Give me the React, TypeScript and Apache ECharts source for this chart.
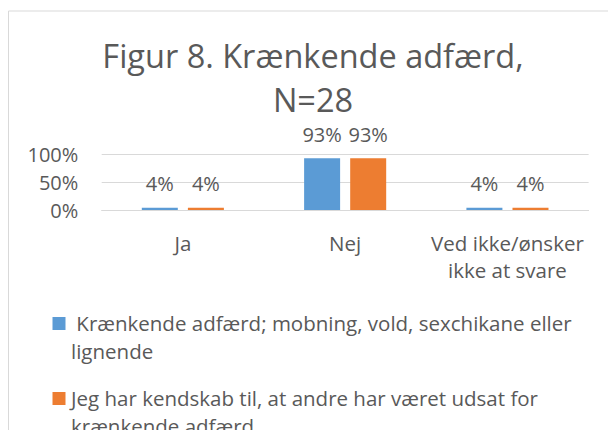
import React, { useEffect, useRef } from "react";
import * as echarts from "echarts";

const categories = ["Ja", "Nej", "Ved ikke/ønsker ikke at svare"];
const seriesNames = [
  " Krænkende adfærd; mobning, vold, sexchikane eller lignende",
  "Jeg har kendskab til, at andre har været udsat for krænkende adfærd",
];
const seriesA = [0.04, 0.93, 0.04];
const seriesB = [0.04, 0.93, 0.04];
const yTicks = [0, 0.5, 1];
const colors = ["#5B9BD5", "#ED7D31"];
const titleText = "Figur 8. Krænkende adfærd,\nN=28";

const FONT = "'Open Sans', 'Noto Sans', sans-serif";
const TXT = "#595959";

function wrap(text: string, maxChars: number): string {
  const words = text.split(" ");
  const lines: string[] = [];
  let cur = "";
  words.forEach((w, i) => {
    const cand = i === 0 ? w : cur + " " + w;
    if (cand.length > maxChars && cur.trim().length > 0) {
      lines.push(cur);
      cur = w;
    } else {
      cur = cand;
    }
  });
  lines.push(cur);
  return lines.join("\n");
}

export default function App() {
  const ref = useRef<HTMLDivElement>(null);
  useEffect(() => {
    if (!ref.current) return;
    const chart = echarts.init(ref.current, null, { renderer: "svg" });
    const pct = (v: number) => Math.round(v * 100) + "%";
    const legendTop = [309, 384];
    const option: any = {
      animation: false,
      backgroundColor: "#ffffff",
      title: {
        text: titleText,
        left: 313,
        top: 33,
        padding: 0,
        textAlign: "center",
        textStyle: {
          fontFamily: FONT,
          fontSize: 32.5,
          fontWeight: "normal",
          color: TXT,
          lineHeight: 44,
        },
      },
      grid: { left: 101.7, right: 19.4, top: 154.3, bottom: 220, containLabel: false },
      xAxis: {
        type: "category",
        data: categories,
        axisLine: { show: true, lineStyle: { color: "#D9D9D9", width: 1 } },
        axisTick: { show: false },
        axisLabel: {
          interval: 0,
          margin: 19,
          fontFamily: FONT,
          fontSize: 20.5,
          lineHeight: 27.5,
          color: TXT,
          formatter: (v: string) => v.replace("/ønsker ", "/ønsker\n"),
        },
      },
      yAxis: {
        type: "value",
        min: yTicks[0],
        max: yTicks[yTicks.length - 1],
        interval: 0.5,
        axisLine: { show: false },
        axisTick: { show: false },
        splitLine: { lineStyle: { color: "#D9D9D9", width: 1 } },
        axisLabel: {
          margin: 23.4,
          fontFamily: FONT,
          fontSize: 20,
          color: TXT,
          formatter: (v: number) => pct(v),
        },
      },
      series: [seriesA, seriesB].map((d, i) => ({
        type: "bar",
        name: seriesNames[i],
        data: d,
        barWidth: 36,
        barGap: "28%",
        itemStyle: { color: colors[i] },
        label: {
          show: true,
          position: "top",
          distance: 14,
          fontFamily: FONT,
          fontSize: 20,
          lineHeight: 20,
          color: TXT,
          formatter: (p: any) => pct(p.value),
        },
      })),
      graphic: [
        {
          type: "rect",
          shape: { x: 8.5, y: 11, width: 700, height: 500 },
          style: { fill: "none", stroke: "#D9D9D9", lineWidth: 1 },
          silent: true,
          z: -10,
        },
        ...seriesNames.flatMap((name, i) => [
          {
            type: "rect",
            shape: { x: 52.5, y: legendTop[i] + 8, width: 13, height: 13 },
            style: { fill: colors[i] },
          },
          {
            type: "text",
            x: 71,
            y: legendTop[i],
            style: {
              text: wrap(name, 50),
              fontFamily: FONT,
              fontSize: 20.5,
              lineHeight: 28,
              fill: TXT,
              verticalAlign: "top",
              align: "left",
            },
          },
        ]),
      ],
    };
    chart.setOption(option);
    return () => chart.dispose();
  }, []);
  return (
    <div
      ref={ref}
      style={{ position: "absolute", left: 0, top: 0, width: 608, height: 430 }}
    />
  );
}
